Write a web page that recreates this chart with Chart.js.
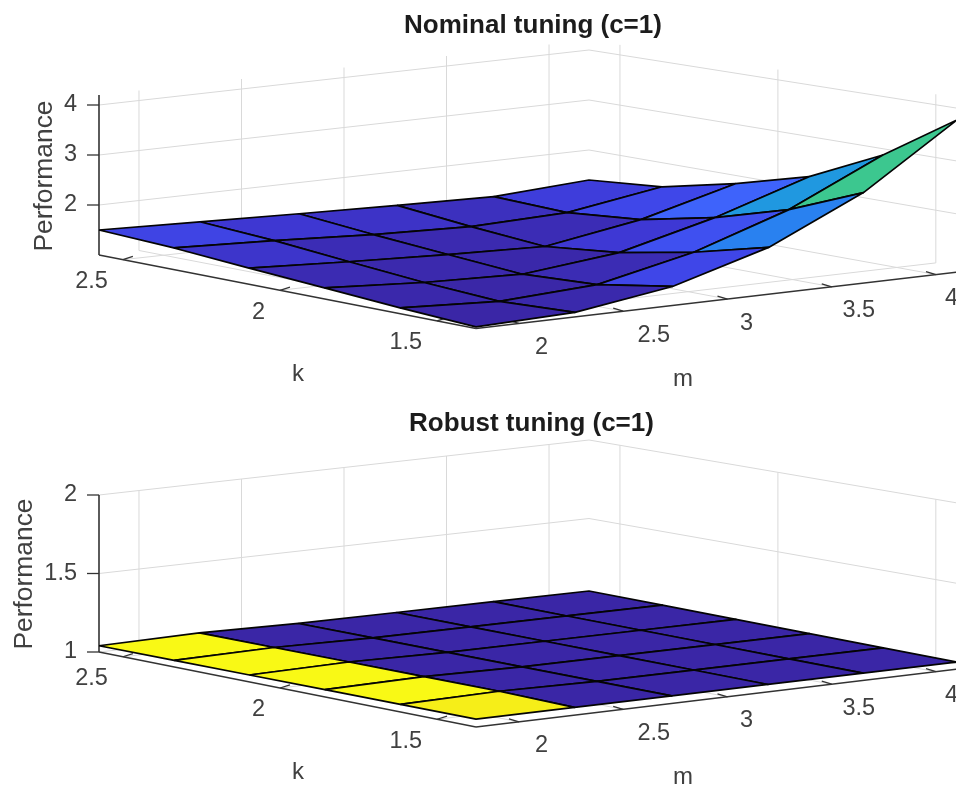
<!DOCTYPE html>
<html>
<head>
<meta charset="utf-8">
<script src="https://cdn.jsdelivr.net/npm/chart.js@4"></script>
<style>
html,body{margin:0;padding:0;background:#fff;overflow:hidden}
canvas{position:absolute;left:0;display:block;filter:blur(0.45px)}
</style>
</head>
<body>
<canvas id="nominal" width="956" height="398" style="top:0"></canvas>
<canvas id="robust" width="956" height="388" style="top:398px"></canvas>
<script>
// ---- data ----
const mValues = [1.8, 2.26, 2.72, 3.18, 3.64, 4.1];
const kValues = [2.58, 2.34, 2.1, 1.86, 1.62, 1.38];
// rows follow mValues, columns follow kValues
const nominalPerformance = [
  [1.49, 1.42, 1.31, 1.21, 1.11, 1.03],
  [1.43, 1.34, 1.21, 1.09, 1.01, 1.08],
  [1.37, 1.24, 1.13, 1.03, 1.11, 1.35],
  [1.32, 1.18, 1.07, 1.23, 1.51, 1.87],
  [1.28, 1.24, 1.38, 1.69, 2.11, 2.69],
  [1.40, 1.54, 1.87, 2.27, 2.94, 3.85]
];
const robustPerformance = [
  [1.04, 1.04, 1.04, 1.04, 1.04, 1.04],
  [1.05, 1.05, 1.05, 1.05, 1.0497, 1.04],
  [1.04, 1.04, 1.04, 1.04, 1.04, 1.04],
  [1.04, 1.04, 1.04, 1.04, 1.04, 1.04],
  [1.04, 1.04, 1.04, 1.04, 1.04, 1.04],
  [1.04, 1.04, 1.04, 1.04, 1.04, 1.04]
];
const mTicks = [2, 2.5, 3, 3.5, 4];
const kTicks = [2.5, 2, 1.5];
const nominalZTicks = [2, 3, 4];
const robustZTicks = [1, 1.5, 2];
const nominalTitle = 'Nominal tuning (c=1)';
const robustTitle = 'Robust tuning (c=1)';

// colormap stops (fraction of colour range -> colour)
const colorStops = [
  [0, '#3a26a6'], [0.08, '#3b2cb4'], [0.13, '#3e38d4'], [0.148, '#3f44e4'], [0.18, '#3f46e8'],
  [0.24, '#3f50f0'], [0.30, '#3f62fb'], [0.39, '#2882f0'], [0.444, '#2098e0'],
  [0.68, '#3cc78f'], [0.85, '#b0c060'], [0.97, '#f6ee18'], [1, '#f9f915']
];
function hex(c){return [1,3,5].map(i=>parseInt(c.substr(i,2),16));}
function colormap(t){
  t=Math.max(0,Math.min(1,t));
  for(let i=1;i<colorStops.length;i++){
    if(t<=colorStops[i][0]){
      const a=colorStops[i-1],b=colorStops[i],f=(t-a[0])/(b[0]-a[0]);
      const A=hex(a[1]),B=hex(b[1]);
      return 'rgb('+A.map((v,j)=>Math.round(v+(B[j]-v)*f)).join(',')+')';
    }
  }
  return colorStops[colorStops.length-1][1];
}
// homography from the unit square: (0,0)=F (1,0)=R (1,1)=B (0,1)=L
function quadMap(F,R,B,L){
  const dx1=R[0]-B[0],dx2=L[0]-B[0],sx=F[0]-R[0]+B[0]-L[0];
  const dy1=R[1]-B[1],dy2=L[1]-B[1],sy=F[1]-R[1]+B[1]-L[1];
  const den=dx1*dy2-dx2*dy1;
  const g=(sx*dy2-dx2*sy)/den,h=(dx1*sy-sx*dy1)/den;
  const a=R[0]-F[0]+g*R[0],b=L[0]-F[0]+h*L[0],c=F[0];
  const d=R[1]-F[1]+g*R[1],e=L[1]-F[1]+h*L[1],f=F[1];
  return (u,v)=>{const w=g*u+h*v+1;return [(a*u+b*v+c)/w,(d*u+e*v+f)/w];};
}
const lerp=(a,b,t)=>[a[0]+(b[0]-a[0])*t,a[1]+(b[1]-a[1])*t];

function buildChart(id,cfg){
  const top=cfg.top;
  const shift=p=>[p[0],p[1]-top];
  const [bF,bR,bB,bL]=cfg.box.map(shift);
  const surf=quadMap(...cfg.surf.map(shift));
  const zs=cfg.zScale; // [at L, at R, at B]
  const sL=zs[0],sR=zs[1],sB=zs[2],sF=sL+sR-sB;
  const zScaleAt=(u,v)=>sF+(sR-sF)*u+(sL-sF)*v;
  const up=(p,s,z)=>({x:p[0],y:p[1]-(z-cfg.zMin)*s});
  // the four edges of the axes box, each with its own axis range
  const legP=(k,z)=>{const t=(k-1.376)/1.2;return up(lerp(bF,bL,t),sF+(sL-sF)*t,z);};
  const frontP=(m,z)=>{const t=(m-1.794)/2.393;return up(lerp(bF,bR,t),sF+(sR-sF)*t,z);};
  const wallM=(m,z)=>{const t=(m-1.805)/2.39;return up(lerp(bL,bB,t),sL+(sB-sL)*t,z);};
  const wallK=(k,z)=>{const t=(2.598-k)/1.222;return up(lerp(bB,bR,t),sB+(sR-sB)*t,z);};
  const mA=mValues[0],mB=mValues[mValues.length-1],kA=kValues[kValues.length-1],kB=kValues[0];
  const surfP=(m,k,z)=>{const u=(m-mA)/(mB-mA),v=(k-kA)/(kB-kA),p=surf(u,v);return {x:p[0],y:p[1]-(z-cfg.zMin)*zScaleAt(u,v)};};

  const datasets=[];
  const line=(pts,color,width,order)=>datasets.push({data:pts,showLine:true,borderColor:color,borderWidth:width,pointRadius:0,tension:0,clip:false,order});
  const GRID='#d9d9d9',AXIS='#333333';
  const zMin=cfg.zMin,zTop=cfg.zTop;
  // back walls and floor grid
  cfg.zTicks.forEach(z=>line([up(bL,sL,z),up(bB,sB,z),up(bR,sR,z)],GRID,1,5000));
  mTicks.forEach(m=>{
    line([wallM(m,zMin),wallM(m,zTop)],GRID,1,5000);
    line([wallM(m,zMin),frontP(m,zMin)],GRID,1,5000);
  });
  kTicks.forEach(k=>{
    line([wallK(k,zMin),wallK(k,zTop)],GRID,1,5000);
    line([wallK(k,zMin),legP(k,zMin)],GRID,1,5000);
  });
  // axis lines and tick marks (under the surface)
  line([up(bL,sL,zMin),up(bL,sL,zTop)],AXIS,1.6,2000);
  line([up(bL,sL,zMin),up(bF,sF,zMin)],AXIS,1.4,2000);
  line([up(bF,sF,zMin),up(bR,sR,zMin)],AXIS,1.4,2000);
  cfg.zTicks.forEach(z=>{
    const p=up(bL,sL,z);
    line([p,{x:p.x-12,y:p.y}],AXIS,1.3,2000);
  });
  kTicks.forEach(k=>{const p=legP(k,zMin);line([p,{x:p.x+10,y:p.y-3.2}],AXIS,1.3,2000);});
  mTicks.forEach(m=>{const p=frontP(m,zMin);line([p,{x:p.x-10,y:p.y-3}],AXIS,1.3,2000);});
  // surface cells, far ones first
  const Z=cfg.values,flat=Z.flat(),lo=Math.min(...flat),hi=Math.max(...flat);
  for(let r=0;r<mValues.length-1;r++){
    for(let c=0;c<kValues.length-1;c++){
      const p=(i,j)=>surfP(mValues[i],kValues[j],Z[i][j]);
      const a=p(r,c);
      datasets.push({
        data:[a,p(r+1,c),p(r+1,c+1),p(r,c+1),a],
        cellColor:colormap((Z[r+1][c]-lo)/(hi-lo)),
        showLine:true,borderColor:'#040404',borderWidth:1.7,borderJoinStyle:'round',
        pointRadius:0,tension:0,clip:false,order:1000+(r-c)
      });
    }
  }
  const cellFill={id:'cellFill',beforeDatasetDraw(chart,args){
    const ds=chart.data.datasets[args.index];
    if(!ds.cellColor)return;
    const pts=chart.getDatasetMeta(args.index).data,ctx=chart.ctx;
    ctx.save();ctx.beginPath();
    pts.forEach((e,i)=>i?ctx.lineTo(e.x,e.y):ctx.moveTo(e.x,e.y));
    ctx.closePath();ctx.fillStyle=ds.cellColor;ctx.fill();ctx.restore();
  }};
  const labels={id:'axisLabels',afterDraw(chart){
    const ctx=chart.ctx;ctx.save();ctx.fillStyle='#404040';ctx.textBaseline='middle';
    const tickFont='23.5px "Liberation Sans"',labFont='24px "Liberation Sans"';
    ctx.font=tickFont;
    ctx.textAlign='right';
    cfg.zTicks.forEach(z=>{const p=up(bL,sL,z);ctx.fillText(String(z),77,p.y);});
    kTicks.forEach(k=>{const p=legP(k,zMin);ctx.fillText(String(k),p.x-15,p.y+22);});
    ctx.textAlign='left';
    mTicks.forEach(m=>{const p=frontP(m,zMin);ctx.fillText(String(m),p.x+16-3.5*(m-2),p.y+24);});
    ctx.textAlign='center';ctx.font=labFont;
    ctx.fillText('k',298,cfg.kLabelY-top);
    ctx.fillText('m',683,cfg.mLabelY-top);
    ctx.font='26.4px "Liberation Sans"';
    ctx.translate(cfg.perfX,cfg.perfY-top);ctx.rotate(-Math.PI/2);
    ctx.fillText('Performance',0,0);
    ctx.restore();
  }};
  return new Chart(document.getElementById(id),{
    type:'scatter',
    data:{datasets},
    plugins:[cellFill,labels],
    options:{
      responsive:false,animation:false,events:[],
      layout:{padding:{left:cfg.padLeft,right:0,top:0,bottom:0}},
      plugins:{
        legend:{display:false},tooltip:{enabled:false},
        title:{display:true,text:cfg.title,color:'#1c1c1c',
          font:{family:'"Liberation Sans"',size:26,weight:'bold',lineHeight:1.2},
          padding:{top:10,bottom:0.8}}
      },
      scales:{
        x:{type:'linear',display:false,min:cfg.padLeft,max:956},
        y:{type:'linear',display:false,reverse:true,min:42,max:cfg.height}
      }
    }
  });
}

buildChart('nominal',{
  top:0,height:398,padLeft:110,title:nominalTitle,
  box:[[476,328.5],[975,270],[589,200],[99,255]],
  surf:[[476,328.5],[957,271],[589,200],[99,254.5]],
  zScale:[50,53,50],zMin:1,zTop:4.2,zTicks:nominalZTicks,values:nominalPerformance,
  kLabelY:374,mLabelY:379,perfX:45,perfY:176
});
buildChart('robust',{
  top:398,height:388,padLeft:107,title:robustTitle,
  box:[[476,727],[975,667],[589,597],[99,652]],
  surf:[[476,725.5],[957,668.5],[589,597.3],[99,652]],
  zScale:[157,161,157],zMin:1,zTop:2,zTicks:robustZTicks,values:robustPerformance,
  kLabelY:772,mLabelY:777,perfX:25,perfY:574
});
</script>
</body>
</html>
